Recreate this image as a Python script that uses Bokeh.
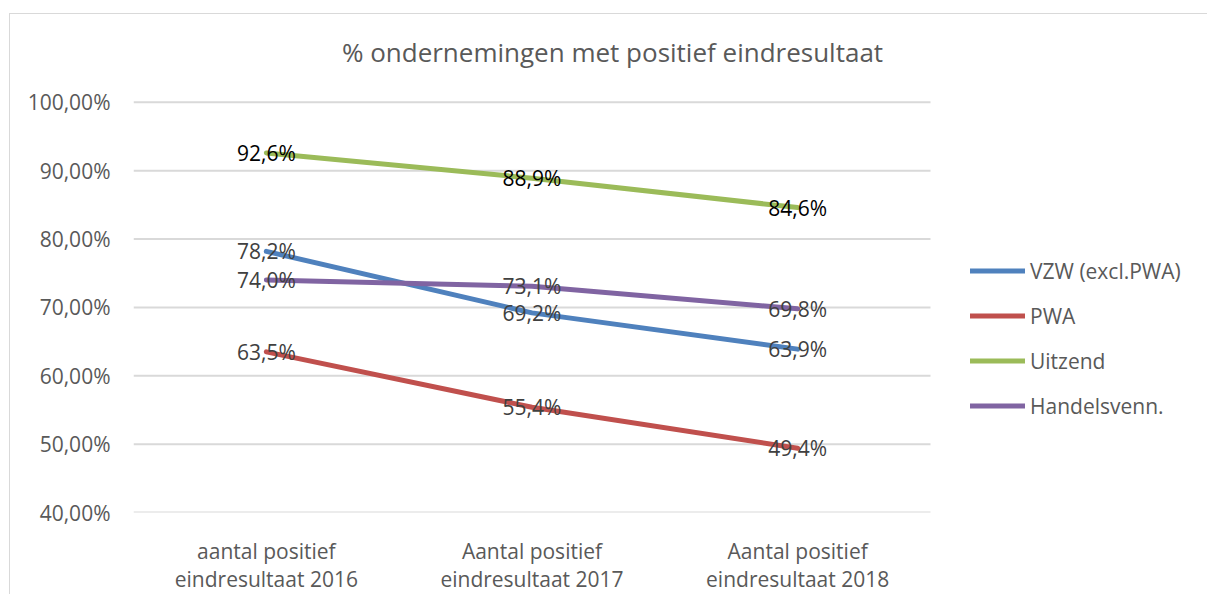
import numpy as np
from bokeh.plotting import figure
from bokeh.models import Range1d, Legend, LegendItem, Label, FixedTicker, CustomJSTickFormatter
from bokeh.core.properties import value
from bokeh.embed import file_html
from bokeh.resources import INLINE

categories = ["aantal positief\neindresultaat 2016",
              "Aantal positief\neindresultaat 2017",
              "Aantal positief\neindresultaat 2018"]
series_names = ["VZW (excl.PWA)", "PWA", "Uitzend", "Handelsvenn."]
vzw = [78.2, 69.2, 63.9]
pwa = [63.5, 55.4, 49.4]
uitzend = [92.6, 88.9, 84.6]
handels = [74.0, 73.1, 69.8]
y_ticks = [40, 50, 60, 70, 80, 90, 100]
title_text = "% ondernemingen met positief eindresultaat"

colors = ["#4F81BD", "#C0504D", "#9BBB59", "#8064A2"]
label_colors = ["#404040", "#404040", "#000000", "#404040"]
FONT = "Open Sans"
GREY = "#595959"

# category slot centres (one slot per category)
xc = (np.arange(len(categories)) + 0.5).tolist()
n_cat = len(categories)

p = figure(width=1198, height=581, output_backend="svg", toolbar_location=None,
           x_range=Range1d(0, 4.0464), y_range=Range1d(40, 112.847),
           min_border_left=123, min_border_right=0, min_border_top=0, min_border_bottom=82)
p.margin = (13, 0, 0, 9)
p.styles = {"border-left": "1px solid #d9d9d9", "border-top": "1px solid #d9d9d9"}
p.outline_line_color = None
p.background_fill_color = "white"
p.border_fill_color = "white"

p.xgrid.grid_line_color = None
p.ygrid.grid_line_color = None
# horizontal gridlines across the plot area only
p.segment(x0=[0] * len(y_ticks), x1=[n_cat] * len(y_ticks), y0=y_ticks, y1=y_ticks,
          line_color="#d9d9d9", line_width=2)

p.yaxis.ticker = FixedTicker(ticks=y_ticks)
p.yaxis.formatter = CustomJSTickFormatter(code="return tick.toFixed(2).replace('.', ',') + '%';")
p.xaxis.ticker = FixedTicker(ticks=xc)
p.xaxis.major_label_overrides = {x: c for x, c in zip(xc, categories)}

for ax in (p.xaxis[0], p.yaxis[0]):
    ax.axis_line_color = None
    ax.major_tick_line_color = None
    ax.minor_tick_line_color = None
    ax.major_label_text_font = FONT
    ax.major_label_text_font_size = "21px"
    ax.major_label_text_color = GREY
p.yaxis.major_label_standoff = 17
p.xaxis.major_label_standoff = 18
p.xaxis.major_label_text_line_height = 1.0

items = []
all_series = [vzw, pwa, uitzend, handels]
for name, vals, col in zip(series_names, all_series, colors):
    r = p.line(xc, vals, line_color=col, line_width=5, line_cap="round", line_join="round")
    items.append(LegendItem(label=name, renderers=[r]))

for vals, lc in zip(all_series, label_colors):
    txt = [f"{v:.1f}".replace(".", ",") + "%" for v in vals]
    p.text(xc, vals, text=txt, text_align="center", text_baseline="middle",
           text_font=value(FONT), text_font_size="21px", text_color=lc)

legend = Legend(items=items, location=(837, 92))
legend.border_line_color = None
legend.background_fill_alpha = 0
legend.padding = 0
legend.margin = 0
legend.spacing = 16
legend.glyph_width = 55
legend.glyph_height = 29
legend.label_height = 29
legend.label_standoff = 5
legend.label_text_font = FONT
legend.label_text_font_size = "21px"
legend.label_text_color = GREY
legend.label_text_baseline = "middle"
p.add_layout(legend, "center")

p.add_layout(Label(x=1.803, y=107.3, text=title_text, text_align="center", text_baseline="middle",
                   text_font=FONT, text_font_size="26px", text_color=GREY))

open("out.html", "w").write(file_html(p, INLINE))
